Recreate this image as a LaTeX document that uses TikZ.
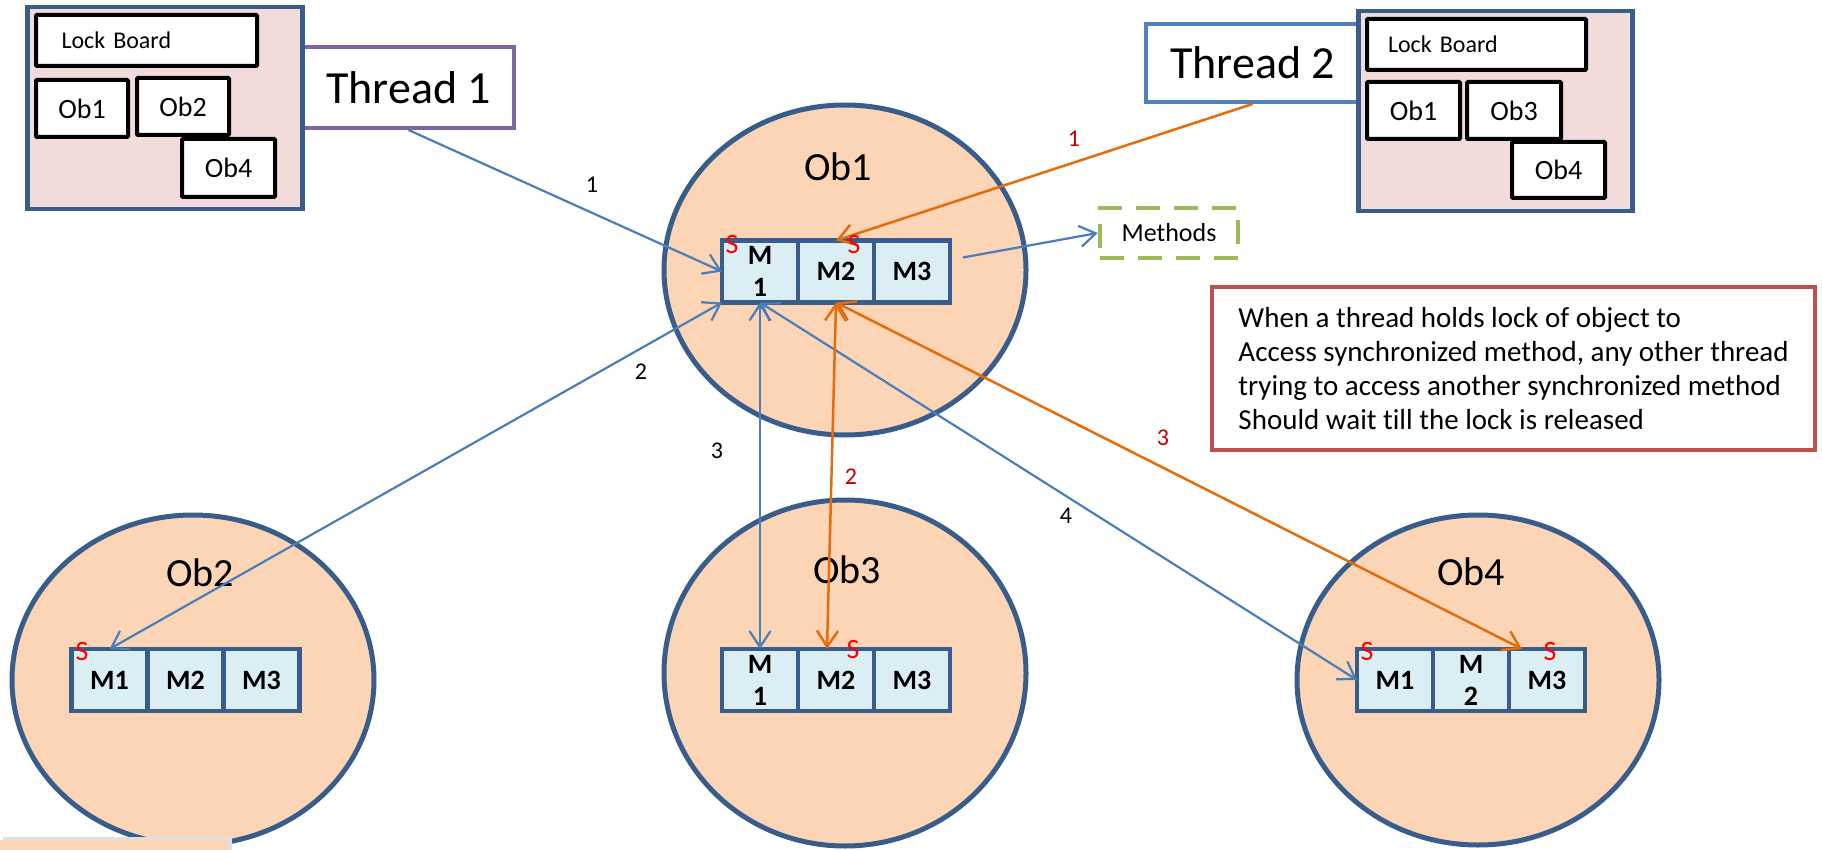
\documentclass[tikz,border=0pt]{standalone}
\usepackage{fontspec}
\setmainfont{Carlito}[Ligatures=NoCommon]
\usetikzlibrary{shapes.geometric,arrows.meta,positioning}

\definecolor{objedge}{HTML}{385D8A}
\definecolor{peach}{HTML}{FBD5B5}
\definecolor{cellblue}{HTML}{DBEEF4}
\definecolor{boardpink}{HTML}{F2DCDB}
\definecolor{threadpurple}{HTML}{8064A2}
\definecolor{threadblue}{HTML}{4F81BD}
\definecolor{linkblue}{HTML}{4A7EBB}
\definecolor{linkorange}{HTML}{E46C0A}
\definecolor{numred}{HTML}{C00000}
\definecolor{notered}{HTML}{C0504D}
\definecolor{methgreen}{HTML}{9BBB59}

\tikzset{
  board/.style={draw=objedge, fill=boardpink, line width=4.5pt, inner sep=0pt, anchor=north west},
  tagbox/.style={draw=black, fill=white, line width=4pt, rounded corners=1pt, inner sep=0pt,
    anchor=north west, font=\fontsize{28}{30}\selectfont},
  threadbox/.style={fill=white, line width=4pt, inner sep=0pt, anchor=north west,
    font=\fontsize{46}{50}\selectfont},
  objnode/.style={ellipse, draw=objedge, fill=peach, line width=5pt, inner sep=0pt,
    minimum width=362pt, minimum height=330pt},
  objname/.style={font=\fontsize{40}{44}\selectfont, inner sep=0pt},
  cell/.style={draw=objedge, fill=cellblue, line width=4.5pt, inner sep=0pt, outer sep=0pt,
    minimum width=76pt, minimum height=62pt, align=center, font=\bfseries\fontsize{28}{32}\selectfont},
  syncflag/.style={text=red, font=\fontsize{28}{30}\selectfont, inner sep=0pt},
  bluelink/.style={draw=linkblue, line width=2.2pt},
  orangelink/.style={draw=linkorange, line width=2.5pt},
  steplabel/.style={font=\fontsize{24}{26}\selectfont, inner sep=0pt},
  >={Straight Barb[length=16pt,width=21pt]},
}

\begin{document}
\begin{tikzpicture}[x=1pt,y=-1pt]
  \useasboundingbox (0,0) rectangle (1822,850);

  % threads sit behind the lock boards
  \node (thread1)
        [threadbox, draw=threadpurple, minimum width=211pt, minimum height=81pt]
        at (301,45) {Thread 1};
  \node (thread2)
        [threadbox, draw=threadblue, minimum width=213pt, minimum height=78pt]
        at (1144,22) {Thread 2};

  % lock boards
  \node (boardA) [board, minimum width=275pt, minimum height=202pt] at (25,5) {};
  \node (lockA)
        [tagbox, minimum width=221pt, minimum height=51pt, text width=170pt, align=left,
         font=\fontsize{24}{26}\selectfont]
        at (34,13) {Lock Board};
  \node (tagA1) [tagbox, minimum width=92pt, minimum height=57pt] at (34,78) {Ob1};
  \node (tagA2) [tagbox, minimum width=92pt, minimum height=57pt] at (135,76) {Ob2};
  \node (tagA4) [tagbox, minimum width=93pt, minimum height=58pt] at (180,137) {Ob4};

  \node (boardB) [board, minimum width=274pt, minimum height=200pt] at (1356,9) {};
  \node (lockB)
        [tagbox, minimum width=219pt, minimum height=51pt, text width=177pt, align=left,
         font=\fontsize{24}{26}\selectfont]
        at (1365,17) {Lock Board};
  \node (tagB1) [tagbox, minimum width=93pt, minimum height=57pt] at (1365,80) {Ob1};
  \node (tagB3) [tagbox, minimum width=94pt, minimum height=57pt] at (1465,80) {Ob3};
  \node (tagB4) [tagbox, minimum width=93pt, minimum height=56pt] at (1510,140) {Ob4};

  % objects
  \node (ob1) [objnode] at (845,270) {};
  \node (ob2) [objnode] at (193,680) {};
  \node (ob3) [objnode, minimum height=346pt] at (845,673) {};
  \node (ob4) [objnode] at (1478,680) {};
  \node (ob1name) [objname] at (838,167) {Ob1};
  \node (ob2name) [objname] at (200,573) {Ob2};
  \node (ob3name) [objname] at (847,570) {Ob3};
  \node (ob4name) [objname] at (1471,572) {Ob4};

  % method bars
  \node (ob1m1) [cell] at (760,271.5) {M\\1};
  \node (ob1m2) [cell, right=0pt of ob1m1] {M2};
  \node (ob1m3) [cell, right=0pt of ob1m2] {M3};

  \node (ob2m1) [cell] at (109.5,680) {M1};
  \node (ob2m2) [cell, right=0pt of ob2m1] {M2};
  \node (ob2m3) [cell, right=0pt of ob2m2] {M3};

  \node (ob3m1) [cell] at (760,680) {M\\1};
  \node (ob3m2) [cell, right=0pt of ob3m1] {M2};
  \node (ob3m3) [cell, right=0pt of ob3m2] {M3};

  \node (ob4m1) [cell] at (1395,680) {M1};
  \node (ob4m2) [cell, right=0pt of ob4m1] {M\\2};
  \node (ob4m3) [cell, right=0pt of ob4m2] {M3};

  \node (methods)
        [draw=methgreen, dash pattern=on 24pt off 14pt, line width=4.5pt,
         minimum width=138pt, minimum height=50pt, font=\fontsize{26}{28}\selectfont]
        at (1169,233) {Methods};

  \node (note)
        [draw=notered, line width=4pt, fill=white, inner sep=0pt, minimum width=603pt,
         minimum height=163pt, align=left, anchor=north west, font=\fontsize{29}{34}\selectfont]
        at (1210,285)
        {When a thread holds lock of object to\\
         Access synchronized method, any other thread\\
         trying to access another synchronized method\\
         Should wait till the lock is released};

  % thread 1 path
  \draw[bluelink, ->] (thread1.south) -- (ob1m1.west);
  \draw[bluelink, <->] (ob1m1.south west) -- (ob2m1.north);
  \draw[bluelink, <->] (ob1m1.south) -- (ob3m1.north);
  \draw[bluelink, <->] (ob1m1.south) -- (ob4m1.west);
  \draw[bluelink, ->] ([xshift=13pt,yshift=14pt]ob1m3.east) -- (methods.west);

  % thread 2 path
  \draw[orangelink, ->] (thread2.south) -- (ob1m2.north);
  \draw[orangelink, <->] (ob1m2.south) -- ([xshift=-9pt]ob3m2.north);
  \draw[orangelink, <->] (ob1m2.south) -- ([xshift=13pt]ob4m3.north west);

  % synchronized marks
  \node (sflag1) [syncflag] at (732,245) {S};
  \node (sflag2) [syncflag] at (854,245) {S};
  \node (sflag3) [syncflag] at (82,652) {S};
  \node (sflag4) [syncflag] at (853,650) {S};
  \node (sflag5) [syncflag] at (1367,652) {S};
  \node (sflag6) [syncflag] at (1550,652) {S};

  % step numbers
  \node (step1) [steplabel] at (592,185) {1};
  \node (step2) [steplabel] at (641,372) {2};
  \node (step3) [steplabel] at (717,451) {3};
  \node (step4) [steplabel] at (1066,516) {4};
  \node (ostep1) [steplabel, text=numred] at (1074,139) {1};
  \node (ostep2) [steplabel, text=numred] at (851,477) {2};
  \node (ostep3) [steplabel, text=numred] at (1163,438) {3};

  % cut-off strip at the bottom edge
  \fill[black!12] (3,837) rectangle (232,852);
  \node (strip)
        [fill=peach, minimum width=227pt, minimum height=14pt, inner sep=0pt, anchor=north west]
        at (0,840) {};
\end{tikzpicture}
\end{document}
